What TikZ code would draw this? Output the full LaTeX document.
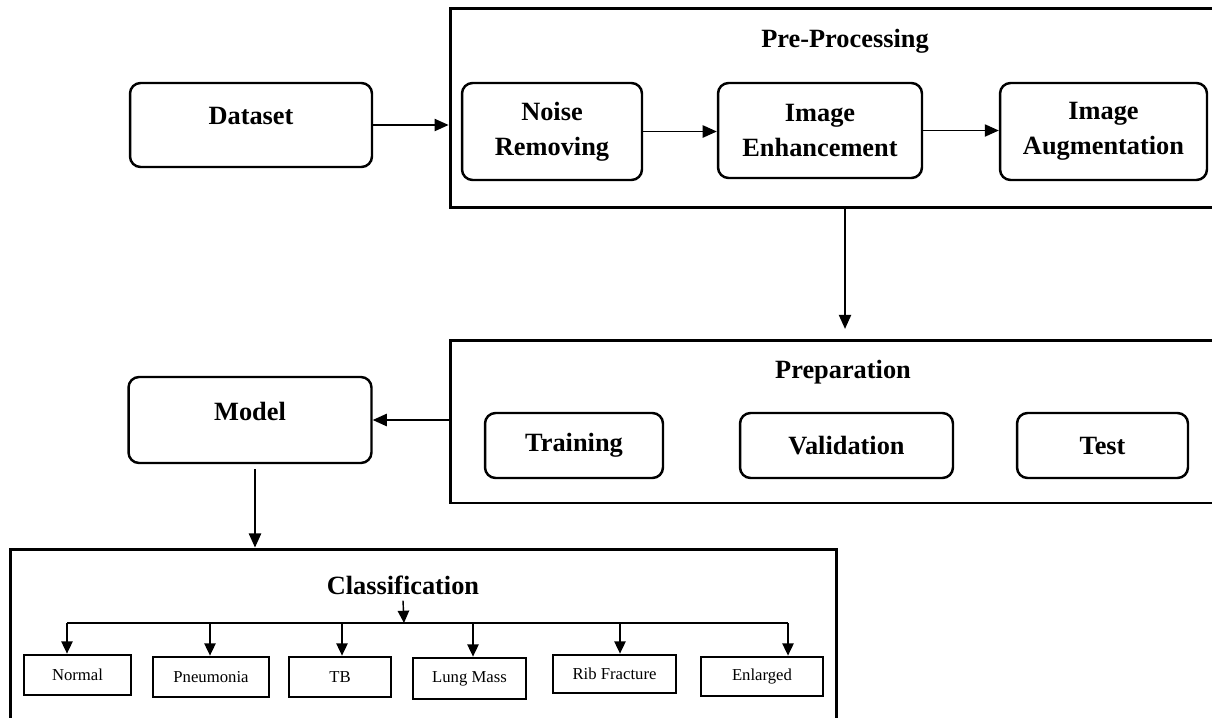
\documentclass[tikz,border=0pt]{standalone}
\usepackage{fontspec}
\setmainfont{Liberation Serif}
\usepackage{tikz}
\usetikzlibrary{arrows.meta}
\tikzset{
  stage/.style = {draw, rounded corners=6pt, line width=1.4pt, align=center,
                  inner sep=0pt, font=\fontsize{15}{20}\selectfont\bfseries},
  group/.style = {draw, line width=1.7pt, inner sep=0pt},
  title/.style = {font=\fontsize{15}{20}\selectfont\bfseries},
  leaf/.style  = {draw, line width=1.6pt, inner sep=0pt,
                  font=\fontsize{9.5}{11}\selectfont},
  post/.style  = {->, line width=0.8pt},
  twig/.style  = {-{Triangle[length=7pt,width=6.5pt]}, line width=0.8pt}
}
\begin{document}
\begin{tikzpicture}[x=0.02cm, y=-0.02cm, >={Triangle[length=8pt,width=7pt]}]
  \useasboundingbox (0,0) rectangle (1212,717);
  % pre-processing
  \node[group, minimum width=15.36cm, minimum height=4cm] (pre) at (834,108) {};
  \node[title] (pretitle) at (845,41) {Pre-Processing};
  \node[stage, minimum width=4.84cm, minimum height=1.68cm, text depth=10pt] (dataset) at (251,125) {Dataset};
  \node[stage, minimum width=3.6cm, minimum height=1.94cm] (noise) at (552,131.5) {Noise\\Removing};
  \node[stage, minimum width=4.08cm, minimum height=1.9cm] (enh) at (820,130.5) {Image\\Enhancement};
  \node[stage, minimum width=4.14cm, minimum height=1.94cm] (aug) at (1103.5,131.5) {Image\\Augmentation};
  % preparation
  \node[group, minimum width=15.36cm, minimum height=3.26cm] (prep) at (834,421.5) {};
  \node[title] (preptitle) at (843,372) {Preparation};
  \node[stage, minimum width=3.56cm, minimum height=1.3cm] (train) at (574,445.5) {Training};
  \node[stage, minimum width=4.26cm, minimum height=1.3cm] (valid) at (846.5,445.5) {Validation};
  \node[stage, minimum width=3.42cm, minimum height=1.3cm] (test) at (1102.5,445.5) {Test};
  \node[stage, minimum width=4.86cm, minimum height=1.72cm, text depth=10pt] (model) at (250,420) {Model};
  % classification
  \node[group, minimum width=16.54cm, minimum height=3.5cm] (class) at (423.5,636.5) {};
  \node[title] (classtitle) at (403,585) {Classification};
  \node[leaf, minimum width=2.14cm, minimum height=0.8cm] (normal) at (77.5,675) {Normal};
  \node[leaf, minimum width=2.32cm, minimum height=0.8cm] (pneu) at (211,677) {Pneumonia};
  \node[leaf, minimum width=2.04cm, minimum height=0.8cm] (tb) at (340,677) {TB};
  \node[leaf, minimum width=2.26cm, minimum height=0.82cm] (mass) at (469.5,678.5) {Lung Mass};
  \node[leaf, minimum width=2.46cm, minimum height=0.76cm] (rib) at (614.5,674) {Rib Fracture};
  \node[leaf, minimum width=2.44cm, minimum height=0.78cm] (enl) at (762,676.5) {Enlarged};
  \coordinate (top) at (404,623);
  \coordinate (b1) at (67,623);
  \coordinate (b2) at (210,623);
  \coordinate (b3) at (342,623);
  \coordinate (b4) at (473,623);
  \coordinate (b5) at (620,623);
  \coordinate (b6) at (788,623);

  % flow
  \draw[post] (dataset.east) -- (dataset.east -| pre.west);
  \draw[post] (noise.east) -- (noise.east -| enh.west);
  \draw[post] (enh.east) -- (enh.east -| aug.west);
  \draw[post, shorten >=5.5pt] (pre.south -| pretitle) -- (prep.north -| pretitle);
  \draw[post] (prep.west |- model.east) -- (model.east);
  \draw[post, shorten <=2.8pt] ([xshift=0.1cm]model.south) -- ([xshift=0.1cm]model.south |- class.north);
  \draw[twig] (classtitle.south) -- (top);
  \draw[line width=0.8pt] (b1) -- (b6);
  \foreach \b/\n in {b1/normal, b2/pneu, b3/tb, b4/mass, b5/rib, b6/enl}
    \draw[twig] (\b) -- (\b |- \n.north);
\end{tikzpicture}
\end{document}
